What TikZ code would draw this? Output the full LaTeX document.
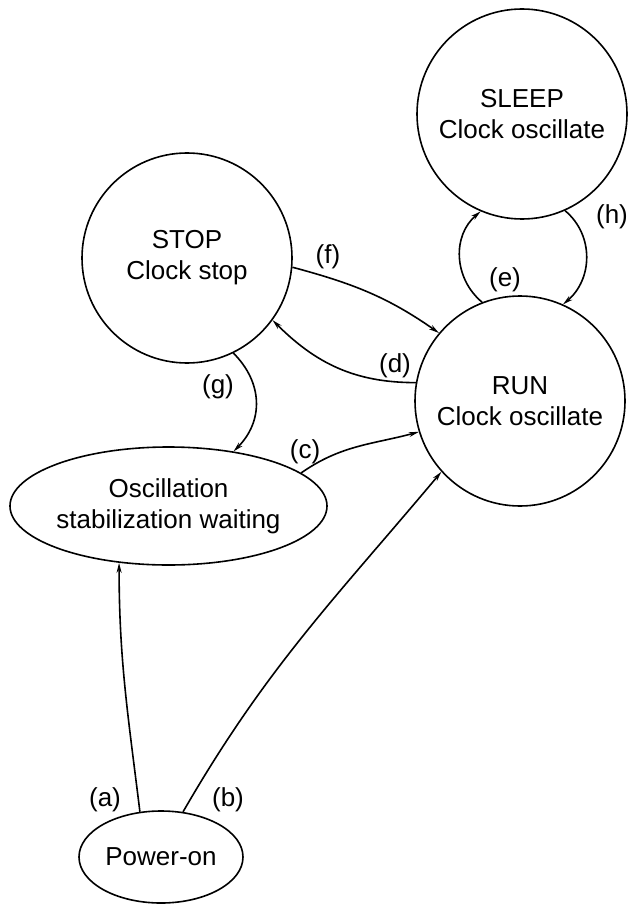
\documentclass[tikz,border=0pt]{standalone}
\usepackage{fontspec}
\setmainfont{Liberation Sans}
\usetikzlibrary{shapes.geometric,arrows.meta}

\begin{document}
\begin{tikzpicture}[x=1pt,y=1pt,
  font=\fontsize{26}{31}\selectfont,
  state/.style={draw,circle,line width=1.6pt,minimum size=210pt,inner sep=0pt,align=center},
  wait/.style={draw,ellipse,line width=1.6pt,inner sep=0pt,align=center},
  edge/.style={line width=1.6pt,-{Stealth[length=10pt,width=5pt]}},
  lbl/.style={inner sep=0pt}]
\useasboundingbox (0,0) rectangle (630,-904);

% states
\node[state] (sleep) at (522,-114) {SLEEP\\Clock oscillate};
\node[state] (stop) at (187,-258) {STOP\\Clock stop};
\node[state] (run) at (520,-401) {RUN\\Clock oscillate};
\node[wait,minimum width=317pt,minimum height=118pt] (osc) at (168.5,-506) {Oscillation\\stabilization waiting};
\node[wait,minimum width=164pt,minimum height=92pt] (pwr) at (161,-857) {Power-on};

% transitions
\draw[edge] (pwr.115) to[out=97,in=-90] (osc.229);
\draw[edge] (pwr.64) to[out=60,in=230] (run.222);
\draw[edge] (osc.14) to[out=35,in=195] (run.197);
\draw[edge] (run.170) to[out=180,in=-45] (stop.324);
\draw[edge] (stop.355) to[out=-15,in=145] (run.140);
\draw[edge] (stop.296) to[out=-45,in=45,looseness=1.1] (osc.40);
\draw[edge] (run.111) to[out=140,in=-140,looseness=1.05] (sleep.247);
\draw[edge] (sleep.294) to[out=-40,in=40,looseness=1.05] (run.66);

% labels
\node[lbl] (la) at (105,-800) {(a)};
\node[lbl] (lb) at (228,-800) {(b)};
\node[lbl] (lc) at (305,-452) {(c)};
\node[lbl] (ld) at (395,-366) {(d)};
\node[lbl] (le) at (505,-280) {(e)};
\node[lbl] (lf) at (328,-257) {(f)};
\node[lbl] (lg) at (218,-387) {(g)};
\node[lbl] (lh) at (612,-217) {(h)};
\end{tikzpicture}
\end{document}
